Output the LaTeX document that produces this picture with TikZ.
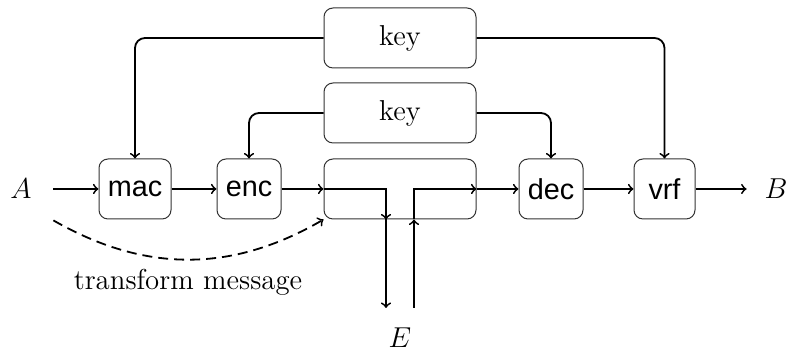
\documentclass[tikz,border=0pt]{standalone}
\usepackage{fontspec}
\newfontfamily\labelsans{Liberation Sans}
\begin{document}
\begin{tikzpicture}[x=0.5pt,y=-0.5pt,
  every node/.style={font=\fontsize{14.4}{17}\selectfont},
  block/.style={draw=black!80, line width=0.5pt, rounded corners=4.5pt, inner sep=0pt},
  stage/.style={block, minimum height=30pt, font=\labelsans\fontsize{14.4}{17}\selectfont},
  wide/.style={block, minimum width=76pt, minimum height=30pt},
  party/.style={inner sep=0pt},
  flow/.style={->, line width=0.9pt},
  keyline/.style={flow, rounded corners=5pt},
]
\useasboundingbox (0,0) rectangle (789,351);

% processing stages
\node[stage, minimum width=36pt] (mac) at (135,189) {mac};
\node[stage, minimum width=32pt] (enc) at (249,189) {enc};
\node[wide] (chan) at (400,189) {};
\node[stage, minimum width=32pt] (dec) at (551,189) {dec};
\node[stage, minimum width=30.5pt] (vrf) at (664.5,189) {vrf};

% shared keys
\node[wide] (key1) at (400,38) {key};
\node[wide] (key2) at (400,113) {key};

% end points
\node[party, minimum width=32pt, minimum height=31pt] (A) at (21,189) {$A$};
\node[party, minimum width=29pt] (B) at (776,189) {$B$};
\node[party, minimum height=30pt] (E) at (400,338) {$E$};

% eavesdropper taps
\coordinate (tapout) at (386,308);
\coordinate (tapin) at (414,308);

% main data path
\draw[flow] (A) -- (mac);
\draw[flow] (mac) -- (enc);
\draw[flow] (enc) -- (chan.west);
\draw[flow] (chan.west) -| (chan.south -| tapout);
\draw[flow] (chan.south -| tapout) -- (tapout);
\draw[flow] (tapin) -- (chan.south -| tapin);
\draw[flow] (chan.south -| tapin) |- (chan.east);
\draw[flow] (chan.east) -- (dec.west);
\draw[flow] (dec) -- (vrf);
\draw[flow] (vrf) -- (B);

% key distribution
\draw[keyline] (key1.west) -| (mac.north);
\draw[keyline] (key1.east) -| (vrf.north);
\draw[keyline] (key2.west) -| (enc.north);
\draw[keyline] (key2.east) -| (dec.north);

% message transformation
\draw[flow, dash pattern=on 5pt off 3pt] (A.south east) to[bend right=30] (chan.south west);
\node (tm) at (188,282) {transform message};
\end{tikzpicture}
\end{document}
